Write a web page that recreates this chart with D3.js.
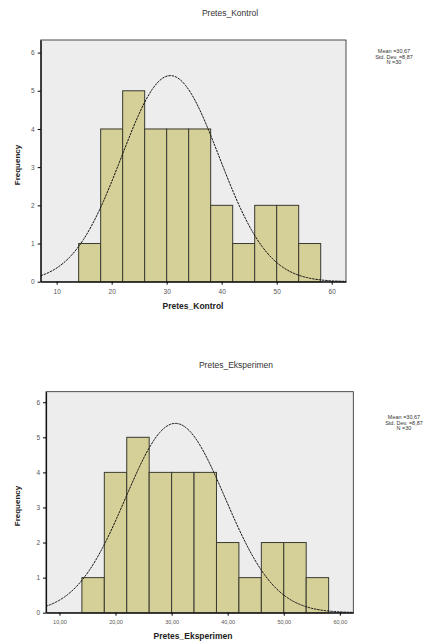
<!DOCTYPE html>
<html>
<head>
<meta charset="utf-8">
<script src="https://cdn.jsdelivr.net/npm/d3@7"></script>
<style>
  body { margin: 0; background: #fff; }
  svg { display: block; font-family: "Liberation Sans", Arial, sans-serif; }
</style>
</head>
<body>
<div id="chart"></div>
<script>
// histogram data
var binEdges = [14, 18, 22, 26, 30, 34, 38, 42, 46, 50, 54, 58];
var countsKontrol = [1, 4, 5, 4, 4, 4, 2, 1, 2, 2, 1];
var countsEksperimen = [1, 4, 5, 4, 4, 4, 2, 1, 2, 2, 1];
var titles = ["Pretes_Kontrol", "Pretes_Eksperimen"];
var xTicks = [10, 20, 30, 40, 50, 60];
var xTickLabelsKontrol = ["10", "20", "30", "40", "50", "60"];
var xTickLabelsEksperimen = ["10,00", "20,00", "30,00", "40,00", "50,00", "60,00"];
var yTicks = [0, 1, 2, 3, 4, 5, 6];
var means = [30.67, 30.67];
var stdDevs = [8.87, 8.87];
var ns = [30, 30];

var svg = d3.select("#chart").append("svg")
    .attr("width", 433)
    .attr("height", 644);

var drawHist = function(opt){
    var g = svg.append("g");

    var x = d3.scaleLinear().domain(opt.xDomain).range([opt.left, opt.right]);
    var y = d3.scaleLinear().domain([0, opt.yMax]).range([opt.bottom, opt.top]);

    // title
    g.append("text")
	.attr("x", opt.titleX).attr("y", opt.titleY)
	.attr("text-anchor", "middle")
	.attr("font-size", 8.5)
	.attr("fill", "#333")
	.text(opt.title);

    // plot background
    g.append("rect")
	.attr("x", opt.left).attr("y", opt.top)
	.attr("width", opt.right - opt.left)
	.attr("height", opt.bottom - opt.top)
	.attr("fill", "#ededed")
	.attr("stroke", "#222")
	.attr("stroke-width", 0.8);

    // bars
    var bins = opt.counts.map(function(c, i){
	return {x0: binEdges[i], x1: binEdges[i + 1], n: c};
    });
    g.selectAll("rect.bar").data(bins).enter().append("rect")
	.attr("class", "bar")
	.attr("x", function(d){ return x(d.x0); })
	.attr("y", function(d){ return y(d.n); })
	.attr("width", function(d){ return x(d.x1) - x(d.x0); })
	.attr("height", function(d){ return y(0) - y(d.n); })
	.attr("fill", "#d5cf98")
	.attr("stroke", "#3a3a30")
	.attr("stroke-width", 1);

    // normal curve
    var pts = d3.range(0, 201).map(function(i){
	var v = opt.xDomain[0] + (opt.xDomain[1] - opt.xDomain[0]) * i / 200;
	var z = (v - opt.mean) / opt.sd;
	var f = opt.n * 4 * Math.exp(-z * z / 2) / (opt.sd * Math.sqrt(2 * Math.PI));
	return [x(v), y(f)];
    });
    g.append("path")
	.attr("d", d3.line()(pts))
	.attr("fill", "none")
	.attr("stroke", "#111")
	.attr("stroke-width", 1)
	.attr("stroke-dasharray", "2.5,0.8");

    // axes
    var xAxis = d3.axisBottom(x).tickValues(xTicks)
	.tickFormat(function(d, i){ return opt.xLabels[i]; })
	.tickSize(3).tickSizeOuter(0);
    var ax = g.append("g")
	.attr("transform", "translate(0," + opt.bottom + ")")
	.call(xAxis);
    ax.select(".domain").attr("stroke", "#111").attr("stroke-width", 1.2);
    ax.selectAll("text").attr("font-size", opt.xFont).attr("fill", "#555").attr("dy", "0.9em");

    var yAxis = d3.axisLeft(y).tickValues(yTicks).tickFormat(d3.format("d"))
	.tickSize(3).tickSizeOuter(0);
    var ay = g.append("g")
	.attr("transform", "translate(" + opt.left + ",0)")
	.call(yAxis);
    ay.select(".domain").attr("stroke", "#111").attr("stroke-width", 1.2);
    ay.selectAll("text").attr("font-size", 6.5).attr("fill", "#555");

    // axis titles
    g.append("text")
	.attr("x", opt.xTitleX).attr("y", opt.xTitleY)
	.attr("text-anchor", "middle")
	.attr("font-size", 8.5)
	.attr("font-weight", "bold")
	.attr("fill", "#222")
	.text(opt.title);

    g.append("text")
	.attr("transform", "translate(" + opt.yTitleX + "," + opt.yTitleY + ") rotate(-90)")
	.attr("text-anchor", "middle")
	.attr("font-size", 8)
	.attr("font-weight", "bold")
	.attr("fill", "#222")
	.text("Frequency");

    // stats
    var lines = ["Mean =" + opt.mean.toFixed(2).replace(".", ","),
		 "Std. Dev. =" + opt.sd.toFixed(2).replace(".", ","),
		 "N =" + opt.n];
    g.selectAll("text.stat").data(lines).enter().append("text")
	.attr("class", "stat")
	.attr("x", opt.statX)
	.attr("y", function(d, i){ return opt.statY + i * 5.5; })
	.attr("text-anchor", "middle")
	.attr("font-size", 5.5)
	.attr("fill", "#333")
	.text(function(d){ return d; });
};

drawHist({
    title: titles[0], counts: countsKontrol, xLabels: xTickLabelsKontrol,
    mean: means[0], sd: stdDevs[0], n: ns[0],
    left: 40.7, right: 346, top: 40, bottom: 281.7,
    xDomain: [7.1, 62.6], yMax: 6.33,
    titleX: 230, titleY: 16, xTitleX: 193, xTitleY: 309, xFont: 6.5,
    yTitleX: 20, yTitleY: 165, statX: 394, statY: 53
});

drawHist({
    title: titles[1], counts: countsEksperimen, xLabels: xTickLabelsEksperimen,
    mean: means[1], sd: stdDevs[1], n: ns[1],
    left: 46, right: 353.3, top: 391.7, bottom: 612.7,
    xDomain: [7.6, 62.4], yMax: 6.3,
    titleX: 236, titleY: 368, xTitleX: 193, xTitleY: 639, xFont: 5.5,
    yTitleX: 20, yTitleY: 506, statX: 404, statY: 419
});
</script>
</body>
</html>
